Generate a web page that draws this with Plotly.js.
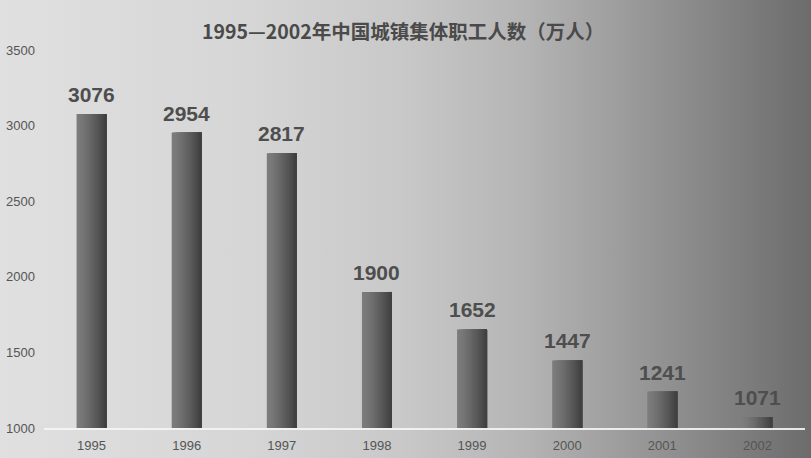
<!DOCTYPE html>
<html>
<head>
<meta charset="utf-8">
<script src="https://cdn.plot.ly/plotly-3.0.1.min.js"></script>
<style>
  html, body { margin: 0; padding: 0; }
  #chart {
    width: 811px; height: 458px;
    background: linear-gradient(to right, #e0e0e0 0%, #d6d6d6 30%, #c8c8c8 50%, #b4b4b4 65%, #9e9e9e 76%, #6c6c6c 100%);
  }
</style>
</head>
<body>
<div id="chart"></div>
<script>
// 1995-2002 urban collective-owned units employees (10k persons)
var years = ['1995', '1996', '1997', '1998', '1999', '2000', '2001', '2002'];
var workers = [3076, 2954, 2817, 1900, 1652, 1447, 1241, 1071];

// bars are drawn as overlaid slices to fake the left-to-right shading;
// each slice runs to the right edge so no seams show between them
var barWidth = 0.315;
var slices = 16;
function shade(i) {
  var t = i / (slices - 1);
  var v = Math.round(0x7c - (0x7c - 0x40) * Math.pow(t, 1.3));
  return 'rgb(' + v + ',' + v + ',' + v + ')';
}

var data = [];
for (var i = 0; i < slices; i++) {
  var step = barWidth / slices;
  data.push({
    x: years,
    y: workers.map(function (w) { return w - 1000; }),
    base: 1000,
    type: 'bar',
    width: barWidth - i * step,
    offset: -barWidth / 2 + i * step,
    marker: { color: shade(i), line: { width: 0 } },
    hovertext: workers.map(String),
    hoverinfo: i == 0 ? 'x+text' : 'skip',
    showlegend: false
  });
}

// category index is used for the label x so autorange is not pulled off
var labels = years.map(function (yr, k) {
  return {
    x: k, y: workers[k],
    text: String(workers[k]),
    showarrow: false,
    yanchor: 'bottom',
    yshift: 6,
    font: { family: 'Liberation Sans, Arial, sans-serif', size: 21, color: '#4e4e4e', weight: 'bold' }
  };
});

var layout = {
  width: 811,
  height: 458,
  margin: { l: 44, r: 6, t: 50, b: 30 },
  paper_bgcolor: 'rgba(0,0,0,0)',
  plot_bgcolor: 'rgba(0,0,0,0)',
  barmode: 'overlay',
  title: {
    text: '1995—2002年中国城镇集体职工人数（万人）',
    x: 0.497, xanchor: 'center',
    y: 0.93, yanchor: 'middle',
    font: { family: 'Noto Sans CJK SC, sans-serif', size: 19.5, color: '#4a4a4a', weight: 'bold' }
  },
  xaxis: {
    type: 'category',
    range: [-0.5, years.length - 0.5],
    showgrid: false,
    showline: true,
    linecolor: 'rgba(245,245,245,0.9)',
    linewidth: 1.5,
    ticks: '',
    ticklabelstandoff: 5,
    tickfont: { family: 'Liberation Sans, Arial, sans-serif', size: 13, color: '#555555' },
    fixedrange: true
  },
  yaxis: {
    range: [1000, 3500],
    dtick: 500,
    showgrid: false,
    zeroline: false,
    showline: false,
    ticks: '',
    ticklabelstandoff: 8,
    tickfont: { family: 'Liberation Sans, Arial, sans-serif', size: 13, color: '#555555' },
    fixedrange: true
  },
  annotations: labels
};

Plotly.newPlot('chart', data, layout, { displayModeBar: false, showLink: false });
</script>
</body>
</html>
